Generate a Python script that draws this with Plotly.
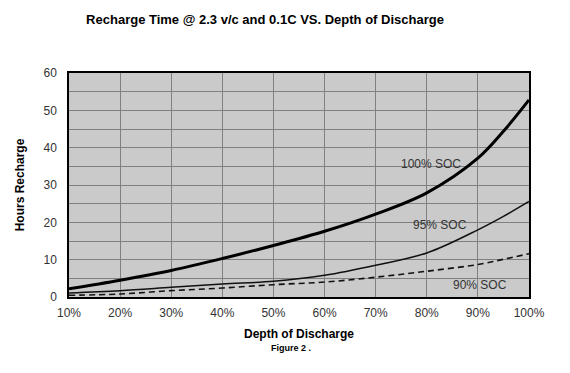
import plotly.graph_objects as go

dod = [10, 20, 30, 40, 50, 60, 70, 80, 90, 95, 100]
soc100 = [2.2, 4.5, 7.1, 10.3, 13.8, 17.6, 22.2, 27.9, 37.2, 44.4, 52.8]
soc95 = [1.1, 1.7, 2.6, 3.5, 4.2, 5.8, 8.5, 11.8, 18.0, 21.6, 25.6]
soc90 = [0.45, 0.8, 1.7, 2.4, 3.3, 4.0, 5.3, 6.9, 8.7, 10.1, 11.6]
x_ticks = [10, 20, 30, 40, 50, 60, 70, 80, 90, 100]
y_ticks = [0, 10, 20, 30, 40, 50, 60]

fig = go.Figure()
fig.add_trace(go.Scatter(x=dod, y=soc100, mode="lines", line=dict(color="#000", width=3, shape="spline"),
                         name="100% SOC", showlegend=False))
fig.add_trace(go.Scatter(x=dod, y=soc95, mode="lines", line=dict(color="#111", width=1.5, shape="spline"),
                         name="95% SOC", showlegend=False))
fig.add_trace(go.Scatter(x=dod, y=soc90, mode="lines", line=dict(color="#111", width=1.6, dash="6px,4px", shape="spline"),
                         name="90% SOC", showlegend=False))

font = "Liberation Sans, Arial, sans-serif"
for txt, x, y in [("100% SOC", 80.8, 35.5), ("95% SOC", 82.5, 19.3), ("90% SOC", 90.5, 3.3)]:
    fig.add_annotation(x=x, y=y, text=txt, showarrow=False, font=dict(family=font, size=12, color="#333"))

fig.add_annotation(xref="paper", yref="paper", x=(283 - 61) / 460, y=-(347 - 289) / 224, text="<b>Figure 2 .</b>",
                   showarrow=False, font=dict(family=font, size=9, color="#000"))

fig.update_layout(
    width=570, height=373,
    margin=dict(l=61, r=49, t=65, b=84),
    paper_bgcolor="white", plot_bgcolor="#cacaca",
    title=dict(text="<b>Recharge Time @ 2.3 v/c and 0.1C VS. Depth of Discharge</b>", x=257 / 570, xanchor="center",
               y=1 - 11 / 373, yanchor="middle", font=dict(family=font, size=13, color="#000")),
    font=dict(family=font, color="#333"),
)
fig.update_xaxes(range=[10, 100], tickvals=x_ticks, ticktext=[f"{v}%" for v in x_ticks],
                 showgrid=True, gridcolor="#808080", gridwidth=1,
                 showline=True, linecolor="#000", linewidth=1.5, mirror=True, zeroline=False,
                 tickfont=dict(size=12, color="#333"), ticks="", ticklabelstandoff=4,
                 title=dict(text="<b>Depth of Discharge</b>", font=dict(size=12, color="#000"), standoff=10))
fig.update_yaxes(range=[0, 60], tickvals=y_ticks, showgrid=True, gridcolor="#808080", gridwidth=1,
                 minor=dict(dtick=5, showgrid=True, gridcolor="#808080", gridwidth=1),
                 showline=True, linecolor="#000", linewidth=1.5, mirror=True, zeroline=False,
                 tickfont=dict(size=12, color="#333"), ticks="", ticklabelstandoff=8,
                 title=dict(text="<b>Hours Recharge</b>", font=dict(size=12, color="#000"), standoff=16))

fig.write_html("out.html")
